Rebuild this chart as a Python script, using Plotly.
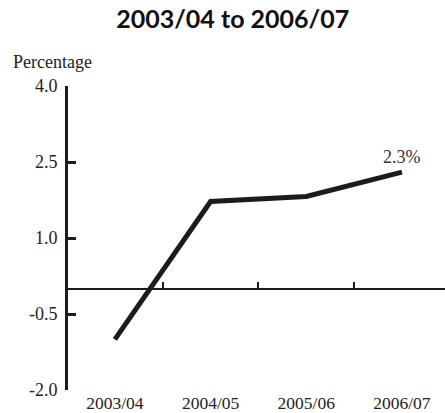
import plotly.graph_objects as go

categories = ["2003/04", "2004/05", "2005/06", "2006/07"]
values = [-1.0, 1.72, 1.82, 2.3]
y_ticks = [-2.0, -0.5, 1.0, 2.5, 4.0]
y_tick_labels = ["-2.0", "-0.5", "1.0", "2.5", "4.0"]
title_text = "2003/04 to 2006/07"
y_title = "Percentage"

ink = "#1c1c1c"
serif = "Liberation Serif, DejaVu Serif, serif"

x_idx = list(range(len(categories)))
x_range = [-0.49, 3.45]

fig = go.Figure()
fig.add_trace(go.Scatter(
    x=x_idx, y=values, mode="lines",
    line=dict(color=ink, width=5),
    hoverinfo="skip", showlegend=False,
))
# invisible trace to activate the zero-line axis
fig.add_trace(go.Scatter(
    x=x_idx, y=values, xaxis="x2", mode="lines",
    line=dict(width=0), opacity=0, hoverinfo="skip", showlegend=False,
))

fig.add_annotation(
    x=x_idx[-1], y=values[-1], text=f"{values[-1]:.1f}%",
    showarrow=False, yanchor="bottom", yshift=3,
    font=dict(family=serif, size=18, color="#333"),
)

fig.update_layout(
    width=445, height=413,
    margin=dict(l=68, r=0, t=86, b=23),
    paper_bgcolor="white", plot_bgcolor="white",
    title=dict(text=f"<b>{title_text}</b>", x=0.523, xanchor="center",
               y=0.953, yanchor="middle",
               font=dict(family="Lato, Noto Sans, sans-serif", size=25, color="#111")),
    xaxis=dict(
        range=x_range, tickvals=x_idx, ticktext=categories,
        showline=False, ticks="", showgrid=False, zeroline=False,
        tickfont=dict(family=serif, size=17.5, color="#222"),
        ticklabelstandoff=0, automargin=False,
    ),
    xaxis2=dict(
        range=x_range, overlaying="x", anchor="free", position=(0 - (-2.0)) / 6.0,
        side="bottom", showline=True, linecolor=ink, linewidth=2,
        ticks="inside", tickvals=[0.5, 1.5, 2.5], ticklen=6, tickwidth=2, tickcolor=ink,
        showticklabels=False, showgrid=False, zeroline=False,
    ),
    yaxis=dict(
        range=[-2.0, 4.0], tickvals=y_ticks, ticktext=y_tick_labels,
        showline=True, linecolor=ink, linewidth=3,
        ticks="inside", ticklen=8, tickwidth=2.5, tickcolor=ink,
        showgrid=False, zeroline=False,
        tickfont=dict(family=serif, size=18, color="#222"),
        ticklabelstandoff=4, automargin=False,
    ),
)

fig.add_annotation(
    xref="paper", yref="paper", x=-0.15, y=1.079, xanchor="left", yanchor="middle",
    text=y_title, showarrow=False,
    font=dict(family=serif, size=18, color="#222"),
)

fig.write_html("out.html", config={"displayModeBar": False},
               post_script="document.body.style.margin='0';")
